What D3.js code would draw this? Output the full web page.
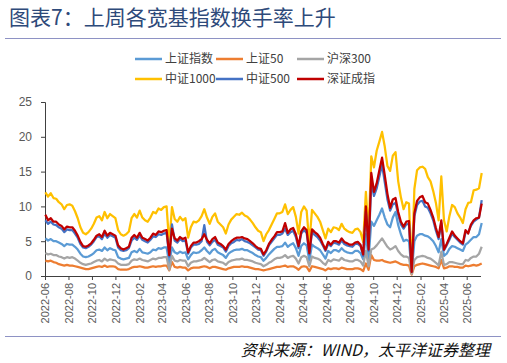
<!DOCTYPE html>
<html>
<head>
<meta charset="utf-8">
<script src="https://cdnjs.cloudflare.com/ajax/libs/d3/7.8.5/d3.min.js"></script>
<style>
  body { margin: 0; background: #fff; }
  svg { display: block; }
</style>
</head>
<body>
<div id="chart"></div>
<script>
// weekly turnover (%), one point per week starting 2022-06-02
var startDate = "2022-06-02";
var tickMonths = ["2022-06","2022-08","2022-10","2022-12","2023-02","2023-04","2023-06","2023-08","2023-10",
  "2023-12","2024-02","2024-04","2024-06","2024-08","2024-10","2024-12","2025-02","2025-04","2025-06"];
var yTicks = [0, 5, 10, 15, 20, 25];

var szzs = [5.4,5.1,5.3,5.0,5.0,4.8,4.6,4.3,4.6,4.5,
  4.5,4.2,3.8,3.2,2.8,2.7,2.8,3.0,3.3,3.7,
  3.8,3.6,4.1,3.7,4.0,3.8,3.7,2.7,2.5,2.4,
  2.5,2.6,3.4,3.6,3.4,3.9,3.4,3.3,3.2,3.4,
  3.8,3.7,4.0,3.9,4.1,4.1,1.8,4.1,3.4,3.2,
  3.5,3.3,3.4,2.4,3.0,3.4,3.3,3.4,3.7,4.1,
  3.6,3.2,3.7,3.9,3.4,3.2,3.0,2.6,3.2,3.5,
  3.7,3.8,3.8,3.9,3.7,3.7,3.5,3.3,3.0,2.8,
  2.7,2.2,2.6,3.1,3.5,3.9,4.2,4.2,4.3,4.8,
  4.2,4.5,4.7,4.0,2.9,4.3,4.7,4.4,2.2,4.5,
  4.2,4.0,3.7,3.1,2.5,3.6,3.3,3.7,3.7,3.5,
  4.0,3.6,3.4,3.3,3.3,3.6,3.6,3.3,2.4,6.0,
  2.5,7.8,7.2,8.0,8.8,9.7,8.4,7.4,7.0,8.4,
  9.2,7.3,6.0,5.0,5.2,5.0,0.4,5.0,5.8,6.0,
  6.0,5.8,5.7,5.4,5.0,4.3,3.4,5.3,2.9,3.2,
  3.9,4.3,4.2,4.0,3.8,3.6,4.5,4.8,5.2,5.6,
  5.6,6.0,7.6];

var sz50 = [2.2,2.1,2.2,2.0,1.9,1.7,1.6,1.5,1.6,1.5,
  1.5,1.4,1.3,1.2,1.1,1.0,1.0,1.1,1.2,1.3,
  1.4,1.3,1.5,1.3,1.4,1.4,1.3,1.0,0.9,0.9,
  0.9,1.0,1.2,1.3,1.3,1.4,1.3,1.2,1.2,1.3,
  1.4,1.3,1.4,1.4,1.5,1.5,0.8,2.0,1.3,1.2,
  1.3,1.2,1.2,0.8,1.1,1.2,1.2,1.2,1.3,1.4,
  1.3,1.1,1.3,1.3,1.2,1.1,1.0,0.9,1.1,1.2,
  1.3,1.3,1.3,1.4,1.3,1.3,1.2,1.1,1.0,1.0,
  0.9,0.8,0.9,1.0,1.1,1.2,1.3,1.3,1.4,1.5,
  1.3,1.4,1.4,1.2,0.9,1.3,1.4,1.3,0.7,1.4,
  1.3,1.2,1.1,1.0,0.8,1.1,1.0,1.1,1.1,1.0,
  1.2,1.1,1.0,1.0,1.0,1.1,1.1,1.0,0.7,1.8,
  0.9,3.0,2.3,2.2,2.2,2.3,2.1,2.0,1.9,2.0,
  2.1,1.9,1.7,1.6,1.6,1.5,0.2,1.4,1.6,1.7,
  1.8,1.7,1.6,1.5,1.4,1.3,1.1,2.3,1.1,1.2,
  1.4,1.4,1.3,1.3,1.2,1.2,1.5,1.4,1.5,1.6,
  1.5,1.6,1.8];

var hs300 = [3.3,3.1,3.2,3.0,3.0,2.8,2.7,2.5,2.7,2.6,
  2.7,2.5,2.2,1.9,1.7,1.6,1.7,1.8,2.0,2.2,
  2.3,2.1,2.5,2.2,2.4,2.3,2.2,1.8,1.6,1.6,
  1.6,1.7,2.2,2.4,2.3,2.5,2.3,2.2,2.1,2.3,
  2.5,2.4,2.6,2.6,2.7,2.7,0.9,2.9,2.2,2.1,
  2.3,2.2,2.2,1.4,1.9,2.1,2.1,2.2,2.3,2.6,
  2.3,2.0,2.3,2.4,2.1,2.0,1.9,1.6,2.0,2.2,
  2.3,2.4,2.4,2.5,2.3,2.3,2.2,2.1,1.9,1.8,
  1.7,1.4,1.6,1.9,2.1,2.4,2.6,2.6,2.7,3.0,
  2.6,2.8,2.9,2.5,1.8,2.7,2.9,2.7,1.4,2.8,
  2.6,2.5,2.3,1.9,1.6,2.3,2.1,2.4,2.3,2.2,
  2.6,2.3,2.2,2.1,2.1,2.3,2.3,2.1,1.5,3.6,
  1.4,3.8,4.0,4.4,4.9,5.4,4.8,4.2,3.8,4.0,
  4.3,3.6,3.1,2.8,2.8,2.6,0.3,2.3,2.7,2.8,
  2.9,2.8,2.6,2.5,2.2,1.9,1.5,3.5,1.6,1.7,
  2.0,2.0,1.9,1.8,1.7,1.7,2.3,2.2,2.6,2.8,
  2.8,3.2,4.2];

var zz1000 = [12.0,11.4,11.9,11.2,11.1,10.6,10.3,9.6,10.2,10.3,
  10.1,9.3,8.3,7.0,6.2,6.0,6.3,6.8,7.5,8.4,
  8.6,8.0,9.2,8.3,8.9,8.6,8.3,6.6,6.0,5.8,
  6.0,6.4,8.3,8.9,8.4,9.4,8.4,8.0,7.8,8.4,
  9.2,9.0,9.7,9.5,9.9,10.0,4.5,9.9,8.2,7.8,
  8.5,8.0,8.3,5.5,7.0,7.8,7.7,8.0,8.6,9.6,
  8.4,7.5,8.5,9.0,7.8,7.4,7.0,6.1,7.4,8.1,
  8.5,8.9,8.8,9.1,8.7,8.5,8.1,7.6,7.0,6.5,
  6.3,5.0,6.0,6.6,7.4,8.2,9.0,9.0,9.2,10.3,
  8.9,9.5,9.9,8.5,6.1,9.2,10.0,9.4,4.7,9.5,
  9.0,8.5,7.8,6.6,5.4,6.8,6.3,7.0,6.9,6.6,
  7.5,6.8,6.5,6.3,6.2,6.7,6.8,6.3,4.9,12.1,
  6.0,17.2,15.6,18.0,19.3,20.7,18.6,15.8,15.1,17.3,
  17.8,13.6,11.3,9.6,10.6,10.4,0.8,12.5,15.2,15.6,
  15.7,15.4,14.2,13.6,12.2,10.5,8.0,14.3,8.0,6.4,
  8.6,10.2,9.9,9.0,8.4,7.6,9.6,10.5,10.6,12.3,
  12.4,12.6,14.8];

var zz500 = [8.0,7.5,7.8,7.4,7.3,7.0,6.8,6.3,6.7,6.6,
  6.6,6.1,5.5,4.6,4.1,4.0,4.2,4.5,5.0,5.6,
  5.7,5.3,6.1,5.5,5.9,5.7,5.5,4.1,3.7,3.6,
  3.7,4.0,5.1,5.5,5.2,5.8,5.2,5.0,4.8,5.2,
  5.7,5.6,6.0,5.9,6.1,6.2,2.8,7.4,5.1,4.8,
  5.3,5.0,5.1,3.2,4.1,4.5,4.5,4.6,5.0,7.3,
  4.9,4.4,4.9,5.2,4.5,4.3,4.1,3.5,4.3,4.7,
  4.9,5.2,5.1,5.3,5.0,4.9,4.7,4.4,4.1,3.8,
  3.7,2.9,3.5,4.4,4.9,5.4,5.9,5.9,6.1,6.8,
  5.9,6.3,6.5,5.6,4.0,6.1,6.6,6.2,3.1,6.3,
  5.9,5.6,5.1,4.4,3.6,4.6,4.3,4.8,4.7,4.5,
  5.1,4.6,4.4,4.3,4.2,4.6,4.6,4.3,2.9,9.3,
  3.6,13.5,11.5,12.6,14.3,16.0,13.5,11.0,9.4,10.3,
  10.5,8.8,7.4,6.8,7.4,7.5,0.6,8.6,10.2,10.7,
  10.8,10.0,9.8,9.0,8.0,6.5,5.3,7.6,3.7,4.4,
  5.2,6.1,5.6,5.2,4.8,4.5,6.3,6.3,7.2,7.8,
  8.1,8.4,10.9];

var szcz = [8.8,8.0,8.3,7.8,7.8,7.4,7.2,6.7,7.1,7.0,
  7.0,6.5,5.8,4.9,4.3,4.2,4.4,4.7,5.2,5.8,
  6.0,5.6,6.5,5.8,6.2,6.0,5.8,4.4,4.0,3.8,
  4.0,4.2,5.5,5.9,5.5,6.2,5.5,5.3,5.1,5.5,
  6.1,5.9,6.4,6.3,6.5,6.6,3.0,6.8,5.4,5.1,
  5.6,5.3,5.5,3.4,4.3,4.8,4.8,5.0,5.3,6.0,
  5.2,4.7,5.3,5.6,4.8,4.6,4.3,3.8,4.6,5.0,
  5.3,5.5,5.5,5.6,5.4,5.3,5.0,4.7,4.3,4.0,
  3.9,3.1,3.7,4.6,5.2,5.7,6.3,6.3,6.4,7.6,
  6.2,6.7,6.9,6.0,4.3,6.4,7.0,6.6,3.3,6.7,
  6.3,6.0,5.5,4.6,3.8,4.9,4.5,5.0,5.0,4.8,
  5.4,4.9,4.7,4.5,4.5,4.8,4.9,4.5,3.1,10.0,
  3.8,14.8,12.1,13.3,15.2,17.0,14.5,11.8,9.8,11.0,
  11.2,9.2,7.8,7.1,7.8,7.9,0.6,9.0,10.8,11.3,
  11.5,10.6,10.4,9.5,8.4,6.9,5.6,8.0,3.8,4.6,
  5.5,6.4,5.8,5.4,5.0,4.7,6.6,6.1,7.4,8.0,
  8.3,8.4,10.4];

var seriesNames = ["上证指数", "上证50", "沪深300", "中证1000", "中证500", "深证成指"];
var seriesValues = [szzs, sz50, hs300, zz1000, zz500, szcz];
var seriesColors = ["#5B9BD5", "#ED7D31", "#A5A5A5", "#FFC000", "#4472C4", "#C00000"];

var W = 507, H = 363;
var plot = { left: 45, right: 481, top: 102, bottom: 276 };

var parseMonth = d3.timeParse("%Y-%m");
var start = d3.timeParse("%Y-%m-%d")(startDate);
var dates = szzs.map(function (d, i) { return d3.timeDay.offset(start, 7 * i); });

var svg = d3.select("#chart").append("svg")
  .attr("width", W)
  .attr("height", H);

// title + rules
svg.append("text")
  .attr("x", 9)
  .attr("y", 25)
  .attr("font-family", "'Noto Sans CJK SC', sans-serif")
  .attr("font-size", 21)
  .attr("fill", "#2E4A7A")
  .text("图表7：上周各宽基指数换手率上升");

svg.append("line")
  .attr("x1", 5).attr("x2", 501)
  .attr("y1", 38.5).attr("y2", 38.5)
  .attr("stroke", "#8E92C4").attr("stroke-width", 1.2);

svg.append("line")
  .attr("x1", 5).attr("x2", 501)
  .attr("y1", 336.5).attr("y2", 336.5)
  .attr("stroke", "#8E92C4").attr("stroke-width", 1.2);

// scales
var x = d3.scaleTime()
  .domain([parseMonth("2022-06"), parseMonth("2025-06")])
  .range([plot.left, 466.7]);

var y = d3.scaleLinear()
  .domain([0, 25])
  .range([plot.bottom, plot.top]);

// axes
var yAxis = svg.append("g")
  .attr("transform", "translate(" + plot.left + ",0)")
  .call(d3.axisLeft(y).tickValues(yTicks).tickSize(4).tickPadding(9));
yAxis.select(".domain").attr("stroke", "#404040");
yAxis.selectAll(".tick line").attr("stroke", "#404040");
yAxis.selectAll("text")
  .attr("font-family", "'Liberation Sans', Arial, sans-serif")
  .attr("font-size", 12)
  .attr("fill", "#595959");

var xAxis = svg.append("g")
  .attr("transform", "translate(0," + plot.bottom + ")")
  .call(d3.axisBottom(x)
    .tickValues(tickMonths.map(parseMonth))
    .tickFormat(d3.timeFormat("%Y-%m"))
    .tickSize(4)
    .tickSizeOuter(0));
xAxis.select(".domain")
  .attr("d", "M" + plot.left + ",0.5H" + plot.right)
  .attr("stroke", "#404040");
xAxis.selectAll(".tick line").attr("stroke", "#404040");
xAxis.selectAll("text")
  .attr("font-family", "'Liberation Sans', Arial, sans-serif")
  .attr("font-size", 11)
  .attr("fill", "#595959")
  .attr("transform", "rotate(-90)")
  .attr("text-anchor", "end")
  .attr("x", -7)
  .attr("y", 0)
  .attr("dy", "0.35em");

// lines
var line = d3.line()
  .x(function (d, i) { return x(dates[i]); })
  .y(function (d) { return y(d); });

svg.append("g").selectAll("path")
  .data(seriesValues)
  .enter()
  .append("path")
    .attr("d", function (d) { return line(d); })
    .attr("fill", "none")
    .attr("stroke", function (d, i) { return seriesColors[i]; })
    .attr("stroke-width", 2.25)
    .attr("stroke-linejoin", "round");

// legend, 3 per row
var legend = svg.append("g").selectAll("g")
  .data(seriesNames)
  .enter()
  .append("g")
    .attr("transform", function (d, i) {
      return "translate(" + (135 + (i % 3) * 81) + "," + (59 + Math.floor(i / 3) * 20) + ")";
    });

legend.append("line")
  .attr("x1", 0).attr("x2", 27)
  .attr("stroke", function (d, i) { return seriesColors[i]; })
  .attr("stroke-width", 2.5);

legend.append("text")
  .attr("x", 30)
  .attr("dy", "0.35em")
  .attr("font-family", "'Noto Sans CJK SC', sans-serif")
  .attr("font-size", 12)
  .attr("fill", "#404040")
  .text(function (d) { return d; });

// source
svg.append("text")
  .attr("x", 490)
  .attr("y", 356)
  .attr("text-anchor", "end")
  .attr("font-family", "'Noto Sans CJK SC', sans-serif")
  .attr("font-size", 16)
  .attr("font-style", "italic")
  .attr("fill", "#111")
  .text("资料来源：WIND，太平洋证券整理");
</script>
</body>
</html>
